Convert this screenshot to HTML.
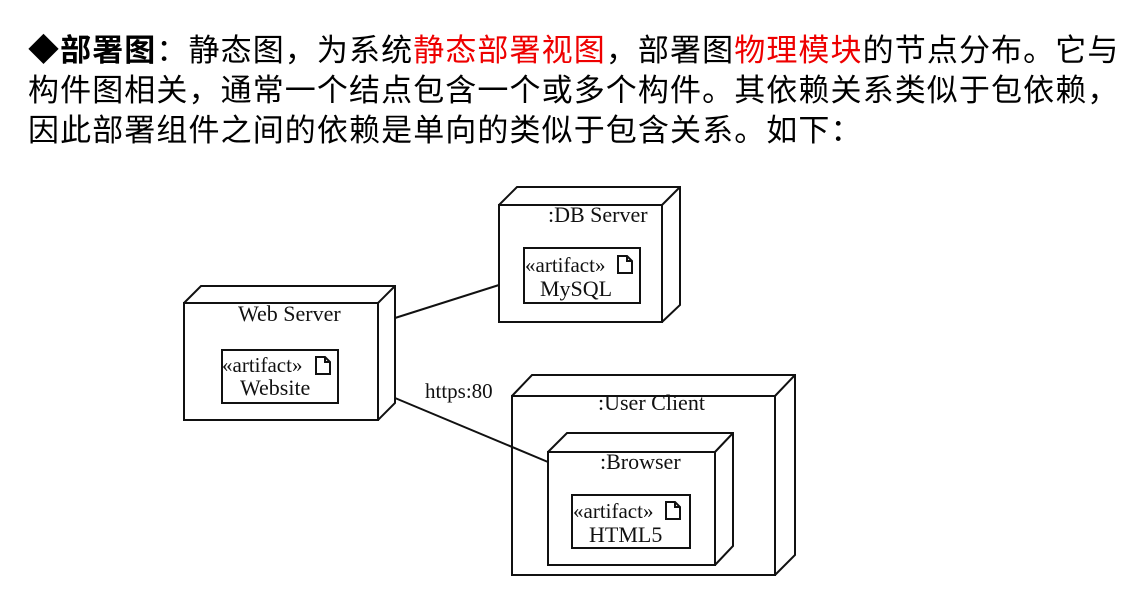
<!DOCTYPE html>
<html><head><meta charset="utf-8"><style>
html,body{margin:0;padding:0;background:#fff;width:1142px;height:600px;overflow:hidden;position:relative}
.t{position:absolute;left:28px;font-family:"Liberation Sans","Noto Sans CJK SC",sans-serif;font-size:31px;letter-spacing:1.1px;line-height:40px;color:#000;white-space:nowrap}
.r{color:#e00}
svg{position:absolute;left:0;top:0}
</style></head><body>
<div class="t" style="top:31px"><b>◆部署图</b>：静态图，为系统<span class="r">静态部署视图</span>，部署图<span class="r">物理模块</span>的节点分布。它与</div>
<div class="t" style="top:71px">构件图相关，通常一个结点包含一个或多个构件。其依赖关系类似于包依赖，</div>
<div class="t" style="top:111px">因此部署组件之间的依赖是单向的类似于包含关系。如下：</div>
<svg width="1142" height="600" font-family="Liberation Serif,serif" font-size="22">
<g fill="none" stroke="#111" stroke-width="2">
<rect x="184" y="303" width="194" height="117"/>
<path d="M184 303 L201 286 L395 286 L395 403 L378 420 M378 303 L395 286"/>
<rect x="222" y="350" width="116" height="53"/>
<rect x="499" y="205" width="163" height="117"/>
<path d="M499 205 L517 187 L680 187 L680 305 L662 322 M662 205 L680 187"/>
<rect x="524" y="248" width="116" height="55"/>
<rect x="512" y="396" width="263" height="179"/>
<path d="M512 396 L532 375 L795 375 L795 555 L775 575 M775 396 L795 375"/>
<rect x="548" y="452" width="167" height="113"/>
<path d="M548 452 L567 433 L733 433 L733 546 L715 565 M715 452 L733 433"/>
<rect x="572" y="495" width="118" height="53"/>
<path d="M395 318 L499 285 M395 398 L548 462"/>
<path d="M316 357 h9 l5 5 v12 h-14 z M325 357 v5 h5"/>
<path d="M618 256 h9 l5 5 v12 h-14 z M627 256 v5 h5"/>
<path d="M666 502 h9 l5 5 v12 h-14 z M675 502 v5 h5"/>
</g>
<g fill="#111">
<text x="238" y="321">Web Server</text>
<text x="222" y="372" font-size="21">«artifact»</text>
<text x="240" y="395">Website</text>
<text x="548" y="222">:DB Server</text>
<text x="525" y="272" font-size="21">«artifact»</text>
<text x="540" y="296">MySQL</text>
<text x="425" y="398" font-size="21">https:80</text>
<text x="598" y="410">:User Client</text>
<text x="600" y="469">:Browser</text>
<text x="573" y="518" font-size="21">«artifact»</text>
<text x="589" y="542">HTML5</text>
</g>
</svg>
</body></html>
